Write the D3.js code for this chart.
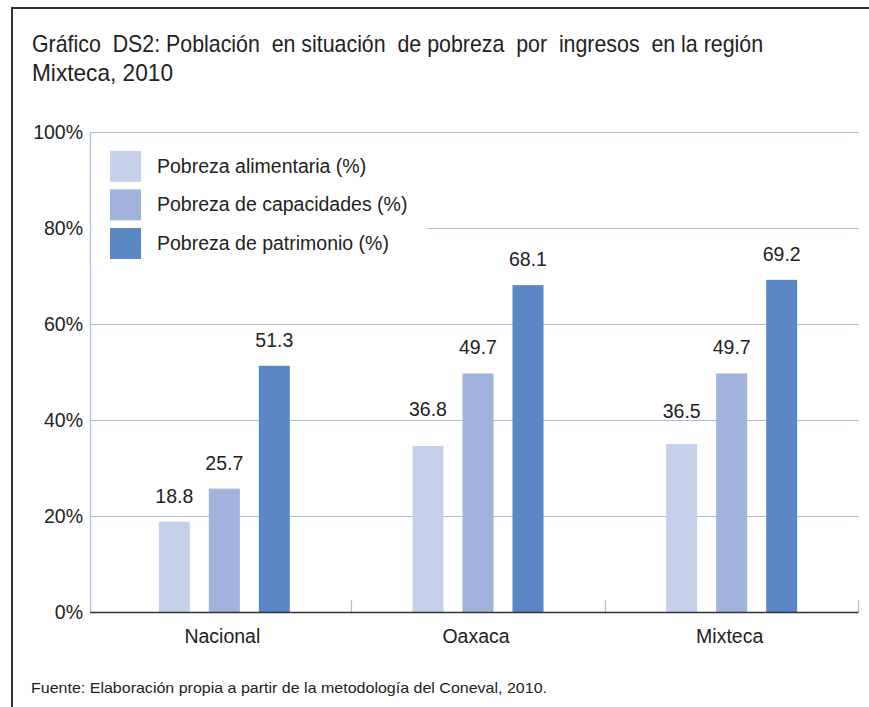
<!DOCTYPE html>
<html>
<head>
<meta charset="utf-8">
<script src="https://cdn.jsdelivr.net/npm/d3@7/dist/d3.min.js"></script>
<style>
  html, body { margin: 0; padding: 0; background: #fff; }
  svg { display: block; }
  text { font-family: "Liberation Sans", Arial, Helvetica, sans-serif; fill: #222; }
  .pre { white-space: pre; }
</style>
</head>
<body>
<svg id="chart" width="869" height="707"></svg>
<script>
// ---- Data ----
const categories = ["Nacional", "Oaxaca", "Mixteca"];
const seriesNames = ["Pobreza alimentaria (%)", "Pobreza de capacidades (%)", "Pobreza de patrimonio (%)"];
const alimentaria = [18.8, 36.8, 36.5];          // labelled values
const alimentariaDrawn = [18.8, 34.6, 35.0];     // bar heights as drawn in the source
const capacidades = [25.7, 49.7, 49.7];
const patrimonio = [51.3, 68.1, 69.2];
const yTicks = [0, 20, 40, 60, 80, 100];
const titleLines = ["Gráfico  DS2: Población  en situación  de pobreza  por  ingresos  en la región", "Mixteca, 2010"];
const sourceNote = "Fuente: Elaboración propia a partir de la metodología del Coneval, 2010.";
const colors = ["#c5d1ea", "#a0b3dc", "#5b87c4"];

const labelSeries = [alimentaria, capacidades, patrimonio];
const drawnSeries = [alimentariaDrawn, capacidades, patrimonio];

const svg = d3.select("#chart");

// Frame
svg.append("line").attr("x1", 11).attr("x2", 869).attr("y1", 8).attr("y2", 8)
  .attr("stroke", "#333").attr("stroke-width", 2);
svg.append("line").attr("x1", 12).attr("x2", 12).attr("y1", 7).attr("y2", 707)
  .attr("stroke", "#333").attr("stroke-width", 2);

// Title
svg.append("text").attr("class", "pre").attr("x", 32).attr("y", 52).attr("font-size", 24)
  .attr("textLength", 731).attr("lengthAdjust", "spacingAndGlyphs").text(titleLines[0]);
svg.append("text").attr("class", "pre").attr("x", 32).attr("y", 81).attr("font-size", 24)
  .attr("textLength", 141).attr("lengthAdjust", "spacingAndGlyphs").text(titleLines[1]);

// Scales
const plotLeft = 90, plotRight = 858.5, plotTop = 132, plotBottom = 612;
const y = d3.scaleLinear().domain([0, 100]).range([plotBottom, plotTop]);
const x0 = d3.scaleBand().domain(categories).range([97.5, plotRight]).padding(0);
const x1 = d3.scaleBand().domain(d3.range(seriesNames.length)).range([0, 131]).paddingInner(0.38).paddingOuter(0);
const gridColor = "#a7bbe4";

// Gridlines
svg.append("g").selectAll("line").data(yTicks.filter(t => t > 0)).join("line")
  .attr("x1", plotLeft).attr("x2", plotRight)
  .attr("y1", d => Math.round(y(d)) + 0.5).attr("y2", d => Math.round(y(d)) + 0.5)
  .attr("stroke", gridColor).attr("stroke-width", 1.2);

// Left axis line
svg.append("line").attr("x1", plotLeft + 0.5).attr("x2", plotLeft + 0.5)
  .attr("y1", plotTop).attr("y2", plotBottom).attr("stroke", gridColor).attr("stroke-width", 1.2);

// Y tick labels
svg.append("g").selectAll("text").data(yTicks).join("text")
  .attr("x", 83).attr("y", d => y(d) + 7).attr("text-anchor", "end")
  .attr("font-size", 19.5).text(d => d + "%");

// Category boundary ticks
const boundaries = categories.map(c => x0(c) + x0.bandwidth());
svg.append("g").selectAll("line").data(boundaries).join("line")
  .attr("x1", d => Math.round(d) + 0.5).attr("x2", d => Math.round(d) + 0.5)
  .attr("y1", plotBottom - 12).attr("y2", plotBottom)
  .attr("stroke", gridColor).attr("stroke-width", 1.2);

// Bars
const groupOffset = c => x0(c) + x0.bandwidth() / 2 - 65.5;
drawnSeries.forEach((vals, si) => {
  svg.append("g").selectAll("rect").data(vals).join("rect")
    .attr("x", (d, i) => groupOffset(categories[i]) + x1(si))
    .attr("width", x1.bandwidth())
    .attr("y", d => y(d))
    .attr("height", d => plotBottom - y(d))
    .attr("fill", colors[si]);
});

// Value labels
labelSeries.forEach((vals, si) => {
  svg.append("g").selectAll("text").data(vals).join("text")
    .attr("x", (d, i) => groupOffset(categories[i]) + x1(si) + x1.bandwidth() / 2)
    .attr("y", d => y(d) - 19)
    .attr("text-anchor", "middle").attr("font-size", 19.5)
    .text(d => d.toFixed(1));
});

// Baseline
svg.append("line").attr("x1", plotLeft).attr("x2", plotRight)
  .attr("y1", plotBottom + 0.5).attr("y2", plotBottom + 0.5)
  .attr("stroke", "#333").attr("stroke-width", 1.5);

// Category labels
svg.append("g").selectAll("text").data(categories).join("text")
  .attr("x", c => x0(c) + x0.bandwidth() / 2 - 2)
  .attr("y", 643).attr("text-anchor", "middle").attr("font-size", 19.5)
  .text(c => c);

// Legend
const legend = svg.append("g");
legend.append("rect").attr("x", 91.5).attr("y", 140).attr("width", 336).attr("height", 128).attr("fill", "#fff");
seriesNames.forEach((name, i) => {
  const cy = 166.3 + i * 38.6;
  legend.append("rect").attr("x", 110).attr("y", cy - 15.5).attr("width", 31).attr("height", 31).attr("fill", colors[i]);
  legend.append("text").attr("x", 157).attr("y", cy + 6.5).attr("font-size", 19.5).text(name);
});

// Source note
svg.append("text").attr("x", 31).attr("y", 693).attr("font-size", 14.5)
  .attr("textLength", 516).attr("lengthAdjust", "spacingAndGlyphs").text(sourceNote);
</script>
</body>
</html>
